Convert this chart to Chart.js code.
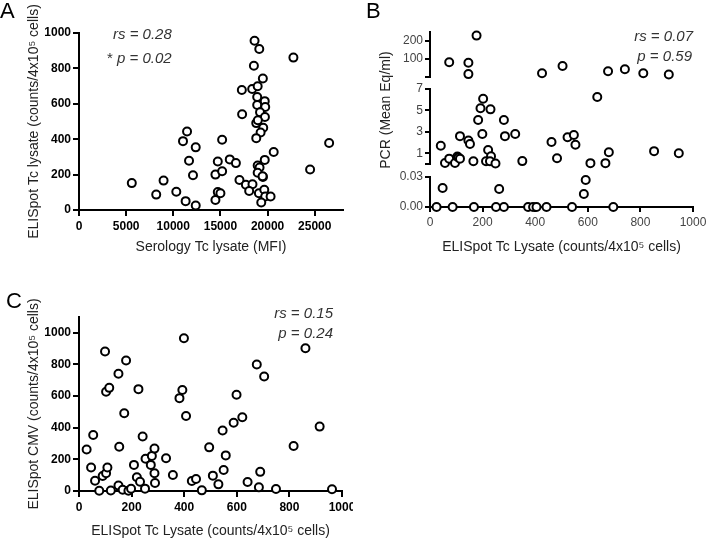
<!DOCTYPE html>
<html>
<head>
<meta charset="utf-8">
<script src="https://cdn.jsdelivr.net/npm/chart.js@4.4.1/dist/chart.umd.min.js"></script>
<style>
 body { margin: 0; background: #fff; }
 #page { position: relative; width: 706px; height: 540px; font-family: 'Liberation Sans', Arial, sans-serif; }
 canvas { position: absolute; }
 .letter { position: absolute; font-size: 22px; line-height: 22px; color: #000; }
 .stat { position: absolute; font-size: 15px; line-height: 15px; font-style: italic; color: #333; white-space: nowrap; }
 .stat.right { text-align: right; }
 .stat b { font-weight: normal; font-style: normal; }
</style>
</head>
<body>
<div id="page">
 <canvas id="chartA" width="353" height="270" style="left:0;top:0"></canvas>
 <canvas id="chartB" width="353" height="270" style="left:353px;top:0"></canvas>
 <canvas id="chartC" width="353" height="270" style="left:0;top:270px"></canvas>

 <div class="letter" style="left:0;top:0">A</div>
 <div class="letter" style="left:366px;top:0">B</div>
 <div class="letter" style="left:6px;top:290px">C</div>

 <div class="stat" style="left:113px;top:26px">rs = 0.28</div>
 <div class="stat" style="left:107px;top:50px"><b>*</b> p = 0.02</div>
 <div class="stat right" style="right:13px;top:28px">rs = 0.07</div>
 <div class="stat right" style="right:14px;top:48px">p = 0.59</div>
 <div class="stat right" style="left:0;width:333px;top:305px">rs = 0.15</div>
 <div class="stat right" style="left:0;width:333px;top:325px">p = 0.24</div>
</div>

<script>
// A: serology vs ELISpot
const serologyA = [18620, 19120, 22740, 18550, 19500, 17270, 18370, 18950, 18900, 19700,
  18900, 19750, 19200, 17300, 19720, 18800, 18970, 19540, 19260, 18800,
  11460, 11030, 12380, 15180, 11670, 14720, 15990, 16640, 20650, 26530,
  24510, 12090, 14470, 15180, 19700, 18950, 19150, 18950, 19510, 19470,
  17020, 17700, 18400, 18050, 19080, 19650, 19750, 20320, 19330, 5600,
  8190, 8970, 10320, 11310, 12380, 14470, 14720, 15000]
const elispotA = [956, 910, 861, 815, 743, 678, 684, 699, 638, 615,
  593, 582, 552, 541, 525, 491, 507, 465, 438, 406,
  444, 389, 354, 397, 278, 274, 286, 265, 328, 379,
  229, 196, 200, 219, 283, 251, 240, 210, 187, 190,
  169, 143, 145, 107, 95, 114, 76, 76, 42, 152,
  87, 166, 103, 50, 25, 57, 101, 95]
const serologyTicks = [0, 5000, 10000, 15000, 20000, 25000]
const countTicks = [0, 200, 400, 600, 800, 1000]

// B: ELISpot vs PCR (broken axis)
const elispotB = [177, 73, 146, 146, 426, 504, 677, 741, 811, 908,
  636, 202, 192, 230, 183, 281, 114, 199, 285, 324,
  146, 152, 221, 232, 462, 523, 547, 553, 41, 57,
  73, 95, 104, 108, 114, 165, 213, 228, 249, 351,
  483, 610, 667, 680, 852, 946,
  48, 263, 592, 585,
  25, 86, 167, 251, 281, 373, 392, 405, 443, 540, 697]
const pcrB = [230, 82, 79, 16, 21, 61, 32, 43, 21, 14,
  6.25, 6.09, 5.2, 5.1, 4.1, 4.1, 2.6, 2.8, 2.6, 2.8,
  2.2, 1.87, 1.3, 0.73, 2.05, 2.5, 2.7, 1.8, 1.7, 0.1,
  0.5, 0.1, 0.7, 0.6, 0.5, 0.25, 0.25, 0.25, 0.05, 0.27,
  0.54, 0.08, 0.08, 1.1, 1.2, 1.0,
  0.019, 0.018, 0.027, 0.013,
  0, 0, 0, 0, 0, 0, 0, 0, 0, 0, 0]
const pcrLowTicks = [0, 0.03]
const pcrMidTicks = [0, 1, 3, 5, 7]
const pcrTopTicks = [0, 100, 200]

// C: ELISpot Tc vs ELISpot CMV
const elispotTcC = [29, 54, 46, 61, 77, 90, 103, 108, 99, 103,
  115, 121, 150, 153, 150, 166, 179, 172, 188, 198,
  209, 220, 226, 232, 242, 251, 253, 273, 277, 287,
  287, 289, 331, 357, 382, 393, 399, 407, 429, 445,
  467, 495, 509, 530, 546, 550, 558, 599, 588, 621,
  641, 676, 684, 689, 704, 749, 816, 861, 915, 962]
const elispotCmvC = [262, 354, 148, 65, 2, 95, 112, 148, 882, 628,
  652, 3, 741, 280, 34, 8, 825, 492, 2, 14,
  165, 87, 644, 59, 344, 15, 204, 165, 222, 268,
  112, 51, 207, 101, 587, 639, 966, 474, 63, 76,
  4, 276, 97, 42, 382, 133, 225, 608, 432, 466,
  57, 800, 23, 121, 724, 13, 285, 903, 407, 11]

const FONT = "'Liberation Sans', Arial, sans-serif"
const toPoints = (xs, ys) => xs.map((x, i) => ({ x: x, y: ys[i] }))

const pointStyle = {
  pointRadius: 4,
  pointHoverRadius: 4,
  pointBorderWidth: 2,
  pointBorderColor: '#000',
  pointBackgroundColor: '#fff',
  showLine: false,
  clip: false
}

const titleFont = { family: FONT, size: 14 }
const boldTicks = { family: FONT, size: 12, weight: 'bold' }
const plainTicks = { family: FONT, size: 12 }

// fixed tick list, so chart.js does not pick its own steps
const fixedTicks = list => s => { s.ticks = list.map(v => ({ value: v })) }

// axis helper: ticks outside, no grid inside the plot
const axis = (o) => ({
  type: 'linear',
  position: o.position,
  stack: o.stack,
  stackWeight: o.stackWeight,
  weight: o.weight,
  min: o.min,
  max: o.max,
  border: { display: true, color: '#000', width: 2 },
  grid: { drawOnChartArea: false, drawTicks: true, tickLength: o.tickLength || 6, color: '#000', lineWidth: 2 },
  ticks: {
    font: o.font, color: o.color, padding: o.pad, autoSkip: false, maxRotation: 0,
    callback: o.label || (v => String(v))
  },
  title: o.title
    ? { display: true, text: o.title, font: titleFont, color: '#222', padding: o.titlePad }
    : { display: false },
  afterBuildTicks: fixedTicks(o.ticks),
  afterFit: s => {
    // fixed axis size, and no extra room for labels at the ends
    if (s.isHorizontal()) {
      s.height = o.size
      s.paddingLeft = 0
      s.paddingRight = 0
    } else {
      s.width = o.size
      s.paddingTop = 0
      s.paddingBottom = 0
    }
  }
})

const baseOptions = pad => ({
  responsive: false,
  animation: false,
  devicePixelRatio: 1,
  layout: { padding: pad },
  plugins: { legend: { display: false }, tooltip: { enabled: false } }
})

// ---- A ----
new Chart(document.getElementById('chartA'), {
  type: 'scatter',
  data: { datasets: [Object.assign({ data: toPoints(serologyA, elispotA) }, pointStyle)] },
  options: Object.assign(baseOptions({ left: 0, top: 33, right: 10, bottom: 0 }), {
    scales: {
      x: axis({ min: 0, max: 28000, ticks: serologyTicks, font: boldTicks, color: '#000', pad: 3, size: 60,
        title: 'Serology Tc lysate (MFI)', titlePad: { top: 0, bottom: 14 } }),
      y: axis({ min: 0, max: 1000, ticks: countTicks, font: boldTicks, color: '#000', pad: 2, size: 79,
        title: 'ELISpot Tc lysate (counts/4x10⁵ cells)', titlePad: { top: 26, bottom: 0 } })
    }
  })
})

// ---- B ----
const ptsB = toPoints(elispotB, pcrB)
const lowB = ptsB.filter(p => p.y <= 0.03)
const midB = ptsB.filter(p => p.y > 0.03 && p.y <= 7)
const topB = ptsB.filter(p => p.y > 7)

const gapAxis = (w, order) => ({
  type: 'linear', position: 'left', stack: 'pcr', stackWeight: w, weight: order,
  min: 0, max: 1,
  border: { display: false },
  grid: { display: false, drawTicks: false },
  ticks: { display: false },
  afterFit: s => { s.width = 77; s.paddingTop = 0; s.paddingBottom = 0 }
})

const bTitle = {
  id: 'bTitle',
  afterDraw(chart) {
    const ctx = chart.ctx
    ctx.save()
    ctx.translate(33, 110)
    ctx.rotate(-Math.PI / 2)
    ctx.font = '14px ' + FONT
    ctx.fillStyle = '#222'
    ctx.textAlign = 'center'
    ctx.textBaseline = 'middle'
    ctx.fillText('PCR (Mean Eq/ml)', 0, 0)
    ctx.restore()
  }
}

const hideZero = v => (v === 0 ? '' : String(v))

new Chart(document.getElementById('chartB'), {
  type: 'scatter',
  plugins: [bTitle],
  data: {
    datasets: [
      Object.assign({ data: topB, yAxisID: 'yTop' }, pointStyle),
      Object.assign({ data: midB, yAxisID: 'yMid' }, pointStyle),
      Object.assign({ data: lowB, yAxisID: 'yLow' }, pointStyle)
    ]
  },
  options: Object.assign(baseOptions({ left: 0, top: 32, right: 13, bottom: 0 }), {
    scales: {
      x: axis({ min: 0, max: 1000, ticks: countTicks, font: plainTicks, color: '#444', pad: 3, size: 63, tickLength: 5,
        title: 'ELISpot Tc Lysate (counts/4x10⁵ cells)', titlePad: { top: 0, bottom: 14 } }),
      yTop: axis({ position: 'left', stack: 'pcr', stackWeight: 45, weight: 5, min: 0, max: 250,
        ticks: pcrTopTicks, font: plainTicks, color: '#444', pad: 2, size: 77, tickLength: 5, label: hideZero }),
      gap1: gapAxis(12, 4),
      yMid: axis({ position: 'left', stack: 'pcr', stackWeight: 75, weight: 3, min: 0, max: 7,
        ticks: pcrMidTicks, font: plainTicks, color: '#444', pad: 2, size: 77, tickLength: 5, label: hideZero }),
      gap2: gapAxis(13, 2),
      yLow: axis({ position: 'left', stack: 'pcr', stackWeight: 30, weight: 1, min: 0, max: 0.03,
        ticks: pcrLowTicks, font: plainTicks, color: '#444', pad: 2, size: 77, tickLength: 5, label: v => v.toFixed(2) })
    }
  })
})

// ---- C ----
new Chart(document.getElementById('chartC'), {
  type: 'scatter',
  data: { datasets: [Object.assign({ data: toPoints(elispotTcC, elispotCmvC) }, pointStyle)] },
  options: Object.assign(baseOptions({ left: 0, top: 47, right: 11, bottom: 0 }), {
    scales: {
      x: axis({ min: 0, max: 1000, ticks: countTicks, font: boldTicks, color: '#000', pad: 3, size: 49,
        title: 'ELISpot Tc Lysate (counts/4x10⁵ cells)', titlePad: { top: 0, bottom: 0 } }),
      y: axis({ min: 0, max: 1100, ticks: countTicks, font: boldTicks, color: '#000', pad: 2, size: 79,
        title: 'ELISpot CMV (counts/4x10⁵ cells)', titlePad: { top: 26, bottom: 0 } })
    }
  })
})
</script>
</body>
</html>
